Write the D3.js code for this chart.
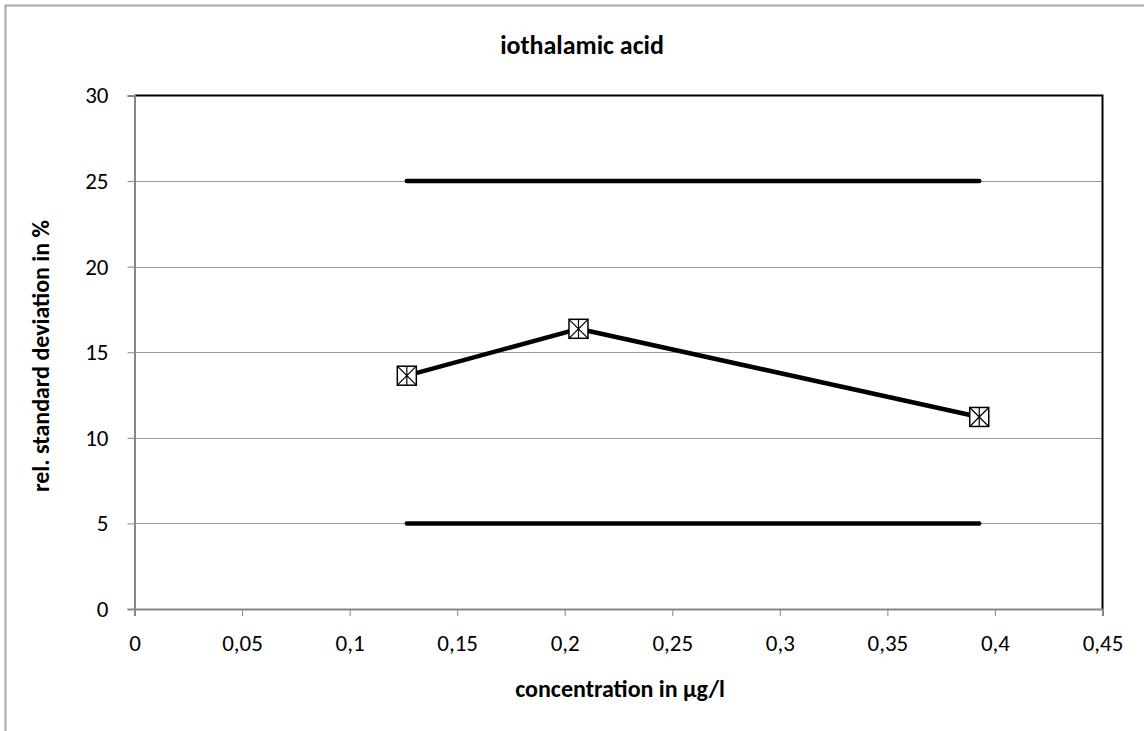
<!DOCTYPE html>
<meta charset="utf-8">
<style>
body{margin:0;background:#fff;}
svg text{font-family: Carlito, Lato, "Open Sans", sans-serif; fill:#000;}
</style>
<svg id="chart" width="1144" height="731"></svg>
<script src="https://d3js.org/d3.v7.min.js"></script>
<script>
// data
const concentration = [0.1266, 0.2064, 0.3927]
const rsd = [13.63, 16.37, 11.22]
const limitLow = [5, 5]
const limitHigh = [25, 25]
const limitRange = [0.1266, 0.3927]
const xTicks = [0, 0.05, 0.1, 0.15, 0.2, 0.25, 0.3, 0.35, 0.4, 0.45]
const yTicks = [0, 5, 10, 15, 20, 25, 30]

const svg = d3.select('#chart')
const plotL = 134.5, plotR = 1102.5, plotT = 95.5, plotB = 609

const x = d3.scaleLinear().domain([0, 0.45]).range([plotL, plotR])
const y = d3.scaleLinear().domain([0, 30]).range([plotB, plotT])
const comma = d3.formatLocale({decimal: ',', thousands: '.', grouping: [3], currency: ['', '']}).format('')

// outer chart border
svg.append('rect').attr('x', 5.5).attr('y', 5.5).attr('width', 1160).attr('height', 760)
  .attr('fill', 'none').attr('stroke', '#a6a6a6').attr('stroke-width', 2)

// gridlines
svg.append('g').selectAll('line').data(yTicks.slice(1, -1)).join('line')
  .attr('x1', plotL).attr('x2', plotR)
  .attr('y1', d => Math.round(y(d)) + 0.5).attr('y2', d => Math.round(y(d)) + 0.5)
  .attr('stroke', '#9a9a9a').attr('stroke-width', 1)

// plot border top/right
svg.append('path')
  .attr('d', `M${plotL},${plotT}H${plotR}V${plotB}`)
  .attr('fill', 'none').attr('stroke', '#000').attr('stroke-width', 2)

// axes
const xAxis = svg.append('g').attr('transform', `translate(0,${plotB})`)
  .call(d3.axisBottom(x).tickValues(xTicks).tickFormat(comma).tickSize(7).tickPadding(19))
const yAxis = svg.append('g').attr('transform', `translate(${plotL},0)`)
  .call(d3.axisLeft(y).tickValues(yTicks).tickSize(7).tickPadding(19))
;[xAxis, yAxis].forEach(a => {
  a.select('.domain').attr('stroke', '#868686').attr('stroke-width', 2)
  a.selectAll('.tick line').attr('stroke', '#868686').attr('stroke-width', 1)
  a.selectAll('.tick text').attr('font-size', 23).attr('fill', '#000')
    .style('font-family', 'Carlito, Lato, sans-serif')
})

// limit lines
const line = d3.line().x(d => x(d[0])).y(d => y(d[1]))
;[limitLow, limitHigh].forEach(lim => {
  svg.append('path')
    .attr('d', line(limitRange.map((c, i) => [c, lim[i]])))
    .attr('fill', 'none').attr('stroke', '#000').attr('stroke-width', 4.5).attr('stroke-linecap', 'round')
})

// measured series
const pts = concentration.map((c, i) => [c, rsd[i]])
svg.append('path')
  .attr('d', line(pts))
  .attr('fill', 'none').attr('stroke', '#000').attr('stroke-width', 4.5).attr('stroke-linejoin', 'round')

const s = 9.5
const markers = svg.append('g').selectAll('g').data(pts).join('g')
  .attr('transform', d => `translate(${x(d[0])},${y(d[1])})`)
markers.append('rect').attr('x', -s).attr('y', -s).attr('width', 2 * s).attr('height', 2 * s)
  .attr('fill', '#fff').attr('stroke', '#000').attr('stroke-width', 1.5)
markers.append('path')
  .attr('d', `M${-s},${-s}L${s},${s}M${s},${-s}L${-s},${s}M0,${-s}V${s}`)
  .attr('stroke', '#000').attr('stroke-width', 1.2)

// titles
svg.append('text').attr('x', 582).attr('y', 54).attr('text-anchor', 'middle')
  .attr('font-size', 26).attr('font-weight', 'bold').text('iothalamic acid')
svg.append('text').attr('x', 620).attr('y', 697).attr('text-anchor', 'middle')
  .attr('font-size', 24).attr('font-weight', 'bold').text('concentration in µg/l')
svg.append('text').attr('transform', 'translate(49,356) rotate(-90)').attr('text-anchor', 'middle')
  .attr('font-size', 24).attr('font-weight', 'bold').text('rel. standard deviation in %')
</script>
